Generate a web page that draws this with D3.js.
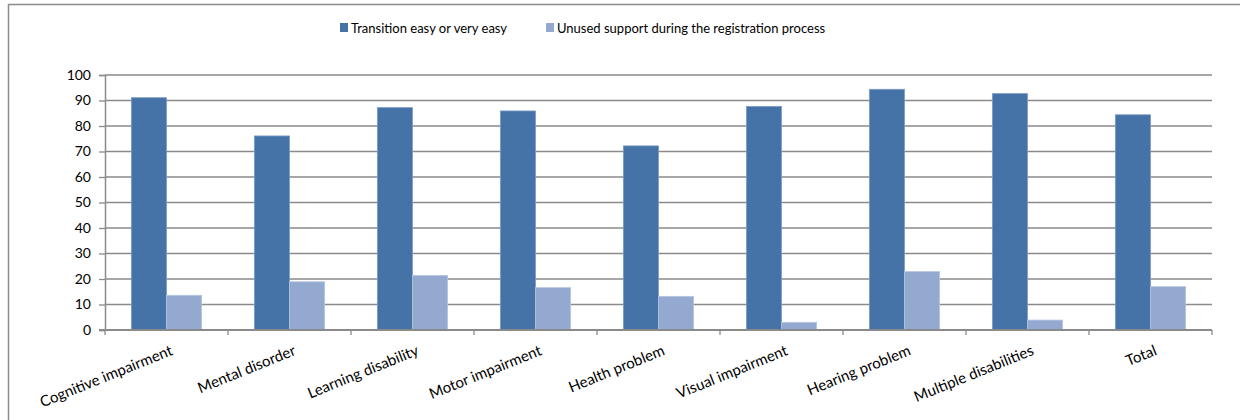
<!DOCTYPE html>
<html>
<head>
<meta charset="utf-8">
<script src="https://cdn.jsdelivr.net/npm/d3@7"></script>
<style>
  body { margin: 0; background: #fff; }
  text { font-family: Lato, "Open Sans", sans-serif; fill: #000; }
</style>
</head>
<body>
<div id="chart"></div>
<script>
const categories = ["Cognitive impairment", "Mental disorder", "Learning disability", "Motor impairment",
  "Health problem", "Visual impairment", "Hearing problem", "Multiple disabilities", "Total"]
const seriesNames = ["Transition easy or very easy", "Unused support during the registration process"]
const easyValues = [91.1, 76.1, 87.2, 85.9, 72.2, 87.7, 94.4, 92.7, 84.4]
const unusedValues = [13.6, 18.9, 21.4, 16.6, 13.2, 3.0, 22.9, 3.9, 17.0]
const yTicks = [0, 10, 20, 30, 40, 50, 60, 70, 80, 90, 100]
const colors = ["#4572a7", "#93a9cf"]

const width = 1240, height = 420
const margin = {top: 75, right: 28, bottom: 90, left: 105}
const plotW = width - margin.left - margin.right
const plotH = height - margin.top - margin.bottom

const svg = d3.select("#chart").append("svg")
  .attr("width", width)
  .attr("height", height)

// outer frame
svg.append("rect")
  .attr("x", 8.5).attr("y", 4.5)
  .attr("width", 1300).attr("height", 500)
  .attr("fill", "none")
  .attr("stroke", "#8c8c8c")
  .attr("stroke-width", 1.5)

const g = svg.append("g")
  .attr("transform", `translate(${margin.left},${margin.top})`)

const x = d3.scaleBand()
  .domain(categories)
  .range([0, plotW])

const y = d3.scaleLinear()
  .domain([0, 100])
  .range([plotH, 0])

// gridlines
g.selectAll(".grid")
  .data(yTicks.filter(d => d > 0))
  .enter().append("line")
  .attr("x1", 0).attr("x2", plotW)
  .attr("y1", d => y(d)).attr("y2", d => y(d))
  .attr("stroke", "#8a8a8a")
  .attr("stroke-width", 1.3)

// bars
const barW = x.bandwidth() / 3.5
const series = [easyValues, unusedValues]
series.forEach((vals, s) => {
  g.selectAll(".bar" + s)
    .data(vals)
    .enter().append("rect")
    .attr("x", (d, i) => x(categories[i]) + x.bandwidth() / 2 - barW + s * barW)
    .attr("y", d => y(d))
    .attr("width", barW)
    .attr("height", d => plotH - y(d))
    .attr("fill", colors[s])
    .attr("stroke", s == 0 ? "#7d9cc6" : "#b5c5e0")
    .attr("stroke-width", 0.8)
})

// y axis
const axisY = d3.axisLeft(y)
  .tickValues(yTicks)
  .tickSize(6)
  .tickPadding(8)
const gy = g.append("g").call(axisY)
gy.select(".domain").attr("stroke", "#8a8a8a").attr("stroke-width", 1.5)
gy.selectAll(".tick line").attr("stroke", "#8a8a8a").attr("stroke-width", 1.3)
gy.selectAll(".tick text").style("font-size", "14px").attr("fill", "#000")

// x axis line with ticks at band edges
g.append("line")
  .attr("x1", -6).attr("x2", plotW)
  .attr("y1", plotH).attr("y2", plotH)
  .attr("stroke", "#8a8a8a")
  .attr("stroke-width", 2)

const edges = categories.map(c => x(c)).concat([plotW])
g.selectAll(".xtick")
  .data(edges)
  .enter().append("line")
  .attr("x1", d => d).attr("x2", d => d)
  .attr("y1", plotH).attr("y2", plotH + 5)
  .attr("stroke", "#8a8a8a")
  .attr("stroke-width", 1.3)

// rotated category labels
g.selectAll(".xlabel")
  .data(categories)
  .enter().append("text")
  .attr("transform", d => `translate(${x(d) + x.bandwidth() / 2 + 3},${plotH + 14}) rotate(-22)`)
  .attr("text-anchor", "end")
  .attr("dy", "0.75em")
  .style("font-size", "15px")
  .text(d => d)

// legend
const legendX = [340, 546]
const legend = svg.selectAll(".legend")
  .data(seriesNames)
  .enter().append("g")
  .attr("transform", (d, i) => `translate(${legendX[i]},23)`)

legend.append("rect")
  .attr("width", 8).attr("height", 9)
  .attr("fill", (d, i) => colors[i])

legend.append("text")
  .attr("x", 11).attr("y", 10)
  .style("font-size", "13px")
  .text(d => d)
</script>
</body>
</html>
